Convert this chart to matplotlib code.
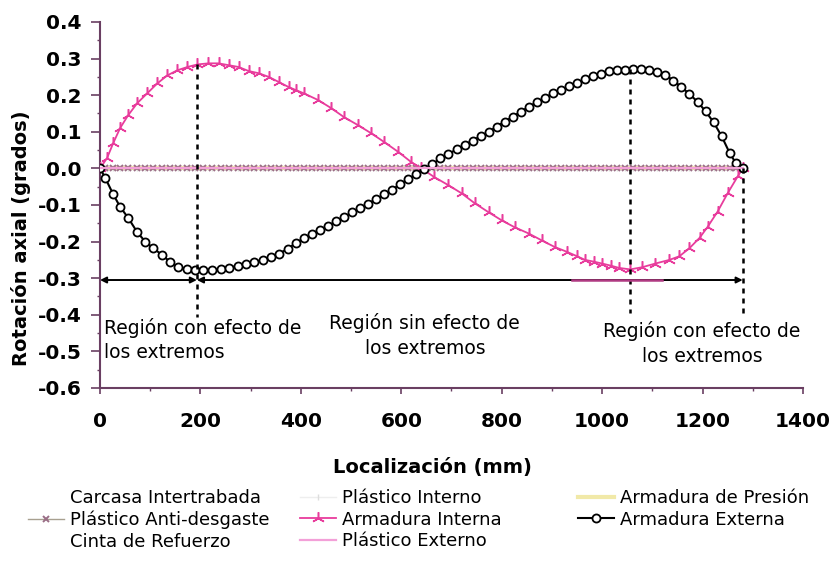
import matplotlib
matplotlib.use("Agg")
import matplotlib.pyplot as plt
from matplotlib.ticker import MultipleLocator, FormatStrFormatter

plt.rcParams['font.family'] = ['DejaVu Sans']
plt.rcParams['axes.unicode_minus'] = False

# ---------------- data ----------------
x_ext = [0, 10, 26, 40, 56, 74, 90, 106, 124, 140, 156, 174, 190, 206, 224, 240, 256,
         274, 290, 306, 324, 340, 356, 374, 390, 406, 422, 438, 454, 470, 486, 502,
         518, 534, 550, 566, 582, 598, 614, 630, 646, 662, 678, 694, 710, 726, 742,
         758, 774, 790, 806, 822, 838, 854, 870, 886, 902, 918, 934, 950, 966, 982,
         998, 1014, 1030, 1046, 1062, 1078, 1094, 1110, 1126, 1142, 1158, 1174, 1190,
         1206, 1222, 1238, 1254, 1266, 1280]
y_ext = [0.0, -0.025, -0.070, -0.105, -0.135, -0.174, -0.200, -0.218, -0.237, -0.256,
         -0.270, -0.275, -0.278, -0.279, -0.278, -0.275, -0.272, -0.266, -0.260, -0.256,
         -0.250, -0.243, -0.233, -0.220, -0.204, -0.191, -0.178, -0.168, -0.157, -0.145,
         -0.133, -0.120, -0.108, -0.096, -0.084, -0.071, -0.058, -0.043, -0.029, -0.015,
         -0.001, 0.012, 0.027, 0.039, 0.052, 0.064, 0.076, 0.088, 0.100, 0.114, 0.128,
         0.141, 0.155, 0.168, 0.181, 0.193, 0.205, 0.215, 0.224, 0.233, 0.243, 0.252,
         0.259, 0.265, 0.268, 0.270, 0.272, 0.271, 0.268, 0.264, 0.255, 0.240, 0.222,
         0.203, 0.182, 0.156, 0.126, 0.088, 0.042, 0.015, 0.0]

x_int = [0, 14, 26, 40, 56, 74, 94, 114, 134, 154, 174, 194, 216, 236, 256, 276, 296,
         316, 336, 356, 376, 390, 406, 434, 460, 486, 514, 540, 566, 594, 620, 640, 666,
         694, 720, 746, 774, 800, 826, 854, 880, 906, 930, 950, 966, 984, 1000, 1018,
         1034, 1056, 1080, 1106, 1134, 1154, 1174, 1194, 1210, 1230, 1250, 1270, 1280]
y_int = [0.0, 0.028, 0.068, 0.110, 0.145, 0.178, 0.205, 0.232, 0.254, 0.268, 0.277,
         0.284, 0.287, 0.287, 0.282, 0.277, 0.266, 0.260, 0.250, 0.236, 0.222, 0.214,
         0.205, 0.187, 0.165, 0.140, 0.118, 0.096, 0.072, 0.045, 0.017, 0.0, -0.024,
         -0.046, -0.068, -0.095, -0.120, -0.142, -0.161, -0.178, -0.197, -0.215, -0.228,
         -0.240, -0.250, -0.255, -0.260, -0.266, -0.272, -0.276, -0.270, -0.260, -0.250,
         -0.240, -0.218, -0.190, -0.160, -0.118, -0.068, -0.022, 0.0]

# layers whose axial rotation is zero along the whole length
x_zero = x_ext
y_zero = [0.0] * len(x_zero)

series_names = ["Carcasa Intertrabada", "Plástico Interno", "Armadura de Presión",
                "Plástico Anti-desgaste", "Armadura Interna", "Armadura Externa",
                "Cinta de Refuerzo", "Plástico Externo"]

x_ticks = [0, 200, 400, 600, 800, 1000, 1200, 1400]
y_ticks = [-0.6, -0.5, -0.4, -0.3, -0.2, -0.1, 0.0, 0.1, 0.2, 0.3, 0.4]

# annotation geometry (region boundaries)
region_bounds = [193, 1280]
dash_lines = [(193, 0.285, -0.405), (1056, 0.272, -0.395), (1280, 0.0, -0.400)]
arrow_y = -0.305
arrow_highlight = (940, 1120)
region_texts = [
    (8, -0.436, "Región con efecto de", "left"),
    (8, -0.502, "los extremos", "left"),
    (647, -0.422, "Región sin efecto de", "center"),
    (647, -0.493, "los extremos", "center"),
    (1199, -0.444, "Región con efecto de", "center"),
    (1199, -0.513, "los extremos", "center"),
]

# ---------------- figure ----------------
spine_col = "#6A3F62"
fig = plt.figure(figsize=(8.32, 5.65), dpi=100)
ax = fig.add_axes([0.1202, 0.3133, 0.8449, 0.6478])
ax.set_xlim(0, 1400)
ax.set_ylim(-0.6, 0.4)

h = {}
h[0], = ax.plot(x_zero, y_zero, color="#FFFFFF", lw=1.0, zorder=2, label=series_names[0])
h[1], = ax.plot(x_zero, y_zero, color="#EEEEEE", lw=1.0, marker="|", ms=4,
                mec="#DDDDDD", zorder=2, label=series_names[1])
h[2], = ax.plot(x_zero, y_zero, color="#F1E9A8", lw=3.0, zorder=2, label=series_names[2])
h[3], = ax.plot(x_zero, y_zero, color="#A8A090", lw=1.0, marker="x", ms=4.5, mew=1.4,
                mec="#9A6E86", zorder=3, label=series_names[3])
h[4], = ax.plot(x_int, y_int, color="#E83C9C", lw=1.3, marker=(3, 2, 0), ms=9, mew=1.1,
                zorder=4, label=series_names[4])
h[5], = ax.plot(x_ext, y_ext, color="black", lw=1.5, marker="o", ms=5.8, mfc="white",
                mew=1.3, zorder=5, label=series_names[5])
h[6], = ax.plot(x_zero, y_zero, color="#FFFFFF", lw=0.5, alpha=0.0, zorder=6,
                label=series_names[6])
h[7], = ax.plot(x_zero, y_zero, color="#F3A0D8", lw=1.6, zorder=6, label=series_names[7])

# dashed vertical lines
for xv, yt, yb in dash_lines:
    ax.plot([xv, xv], [yt, yb], color="black", lw=1.8, ls=(0, (2, 2)), zorder=7)

# region arrows
ax.annotate("", xy=(0, arrow_y), xytext=(region_bounds[0], arrow_y),
            arrowprops=dict(arrowstyle="<|-|>", color="black", lw=1.4,
                            mutation_scale=9, shrinkA=0, shrinkB=0), zorder=7)
ax.annotate("", xy=(region_bounds[0], arrow_y), xytext=(region_bounds[1], arrow_y),
            arrowprops=dict(arrowstyle="<|-|>", color="black", lw=1.4,
                            mutation_scale=9, shrinkA=0, shrinkB=0), zorder=7)
ax.plot(list(arrow_highlight), [arrow_y, arrow_y], color="#B03A82", lw=1.8, zorder=8)

for xt, yt, s, ha in region_texts:
    ax.text(xt, yt, s, ha=ha, va="center", fontsize=13.5, color="black", zorder=9)

# axes styling
for side in ("top", "right"):
    ax.spines[side].set_visible(False)
for side in ("left", "bottom"):
    ax.spines[side].set_color(spine_col)
    ax.spines[side].set_linewidth(1.5)

ax.set_xticks(x_ticks)
ax.set_yticks(y_ticks)
ax.xaxis.set_minor_locator(MultipleLocator(100))
ax.yaxis.set_minor_locator(MultipleLocator(0.05))
ax.yaxis.set_major_formatter(FormatStrFormatter("%.1f"))
ax.tick_params(axis="x", which="major", length=4.5, width=1.2, color=spine_col,
               labelsize=14.5, pad=13)
ax.tick_params(axis="y", which="major", length=6.5, width=1.2, color=spine_col,
               labelsize=14.5, pad=7)
ax.tick_params(axis="both", which="minor", length=2.5, width=1.0, color=spine_col)
for lab in ax.get_xticklabels() + ax.get_yticklabels():
    lab.set_fontweight("bold")

fig.text(21 / 832, 1 - 238 / 565, "Rotación axial (grados)", rotation=90,
         ha="center", va="center", fontsize=14, fontweight="bold")
fig.text(432 / 832, 1 - 467 / 565, "Localización (mm)", ha="center", va="center",
         fontsize=14, fontweight="bold")

# legend in three Excel-like columns
leg_kw = dict(loc="upper left", frameon=False, borderpad=0, borderaxespad=0,
              handlelength=2.0, handletextpad=0.3, labelspacing=0.2, fontsize=13)
y_leg = 1 - 489 / 565
cols = [([0, 3, 6], 28), ([1, 4, 7], 300), ([2, 5], 578)]
for idx, xpx in cols:
    fig.legend([h[i] for i in idx], [series_names[i] for i in idx],
               bbox_to_anchor=(xpx / 832, y_leg), **leg_kw)

fig.savefig("out.png", dpi=100)
